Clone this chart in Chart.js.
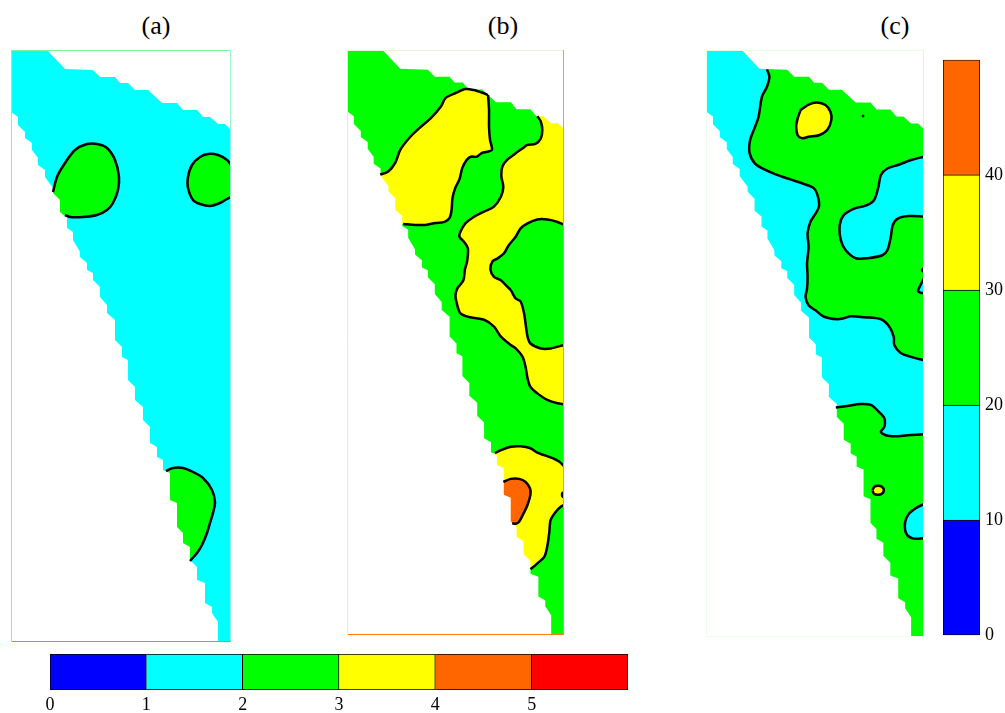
<!DOCTYPE html>
<html lang="en">
<head>
<meta charset="UTF-8">
<title>Contour panels</title>
<script src="https://cdn.jsdelivr.net/npm/chart.js@4.4.1/dist/chart.umd.min.js"></script>
<style>
  body { margin: 0; background: #fff; width: 1005px; height: 713px; position: relative; overflow: hidden; }
  canvas { position: absolute; }
  .ttl { position: absolute; top: 11px; width: 60px; margin-left: -30px; text-align: center;
         font: 26px 'Liberation Serif', 'Times New Roman', serif; line-height: 30px; color: #000; }
</style>
</head>
<body>
<div class="ttl" style="left:156px">(a)</div>
<div class="ttl" style="left:503px">(b)</div>
<div class="ttl" style="left:895px">(c)</div>

<canvas id="pa" style="left:10px;top:49px" width="222" height="594"></canvas>
<canvas id="pb" style="left:346px;top:49px" width="219" height="587"></canvas>
<canvas id="pc" style="left:705px;top:49px" width="220" height="589"></canvas>
<canvas id="cbh" style="left:30px;top:644px" width="620" height="69"></canvas>
<canvas id="cbv" style="left:930px;top:44px" width="75" height="607"></canvas>

<script>
// section extent (same for all three panels)
const X_MAX = 22, Y_MAX = 59.2;

// stepped edge of the section, top side and left side
const topEdge = [[3.6,0],[5.4,1.9],[8.2,2.0],[8.9,2.7],[10.4,2.7],[10.9,3.3],[11.7,3.3],[12.4,4.0],[13.7,4.0],
  [15.1,5.3],[16.6,5.3],[17.2,6.0],[18.6,6.0],[19.2,6.7],[19.9,6.7],[20.7,7.4],[21.4,7.4],[22.0,8.0]];
const leftEdge = [[0,6.2],[0.7,6.7],[0.7,7.5],[1.4,8.2],[1.4,8.8],[2.1,9.3],[2.1,10.0],[2.7,10.8],[2.7,11.5],
  [3.4,12.0],[3.4,12.7],[4.2,13.8],[4.2,14.3],[4.9,15.0],[4.9,16.2],[5.6,16.8],[5.6,17.8],[6.2,18.2],[6.2,19.0],
  [6.9,20.2],[6.9,20.7],[7.6,21.3],[7.6,22.0],[8.2,22.3],[8.2,23.0],[8.9,23.7],[8.9,24.7],[9.6,25.5],[9.6,26.3],
  [10.4,27.0],[10.4,29.0],[11.1,29.7],[11.1,30.7],[11.7,31.0],[11.7,33.0],[12.4,33.7],[12.4,35.0],[13.2,35.7],
  [13.2,37.0],[13.9,37.7],[13.9,39.3],[14.6,39.7],[14.6,40.7],[15.2,41.0],[15.2,42.0],[15.9,42.3],[15.9,45.0],
  [16.6,45.3],[16.6,47.7],[17.2,48.3],[17.2,49.3],[17.9,49.7],[17.9,51.0],[18.6,51.7],[18.6,53.0],[19.4,53.3],
  [19.4,55.3],[20.1,55.7],[20.1,56.3],[20.7,57.2],[20.7,59.2]];

// (a) contours, level 1-2 background
const aBlob1 = [[4.2,14.2],[4.6,12.7],[5.4,11.3],[6.4,10.0],[7.6,9.4],[8.6,9.4],[9.6,9.8],[10.4,11.0],[10.8,12.7],
  [10.7,14.0],[10.2,15.3],[9.6,16.0],[8.6,16.5],[7.2,16.7],[5.9,16.7],[5.4,16.5]];
const aBlob2 = [[22.0,11.5],[21.6,11.0],[20.7,10.5],[19.7,10.4],[18.9,10.7],[18.1,11.5],[17.7,12.7],[17.7,13.8],
  [18.2,15.0],[18.9,15.4],[19.9,15.6],[20.9,15.3],[21.6,14.9],[22.0,14.7]];
const aBlob3 = [[15.5,42.1],[16.2,41.8],[17.2,41.8],[18.2,42.2],[19.2,42.8],[20.1,44.0],[20.4,45.2],[20.2,46.3],
  [19.9,47.3],[19.6,48.3],[19.1,49.5],[18.6,50.3],[17.9,51.1]];

// (b) contours, level 2-3 background
const bNW1 = [[3.37,12.6],[4.18,12.3],[4.9,11.4],[5.4,10.1],[6.4,8.8],[7.45,7.8],[8.5,6.9],[9.5,5.75],[10.0,4.85],
  [11.0,4.35],[12.0,3.95],[12.85,4.05],[13.8,4.35],[14.3,4.55]];
const bNW2 = [[14.3,4.55],[14.4,6.05],[14.4,7.8],[14.5,9.1],[14.7,10.1],[14.2,10.3],[13.7,10.4],[13.15,10.8],
  [12.55,10.8],[12.15,11.1],[11.7,11.9],[11.4,13.1],[11.0,13.9],[10.7,14.95],[10.6,16.2],[10.4,17.0],[9.9,17.4],
  [9.0,17.5],[7.95,17.7],[6.95,17.7],[5.7,17.6]];
const bE = [[19.3,6.7],[19.65,7.25],[19.8,8.1],[19.65,8.95],[19.1,9.5],[18.3,9.6],[17.8,9.95],[17.1,10.45],
  [16.25,11.1],[15.75,11.8],[15.65,12.8],[15.85,13.85],[15.6,14.85],[14.9,15.85],[13.9,16.35],[12.85,16.9],
  [12.0,17.55],[11.5,18.4],[11.4,18.9],[11.85,19.4],[12.25,20.05],[12.2,21.25],[11.95,22.25],[11.8,23.3],
  [11.2,24.1],[11.0,24.8],[11.1,25.5],[11.5,26.65],[12.5,27.05],[13.9,27.3],[14.9,28.0],[15.6,29.0],[16.6,29.85],
  [17.1,30.2],[17.8,31.05],[18.1,32.05],[18.3,33.2],[18.6,34.1],[19.5,34.9],[20.3,35.4],[21.35,35.75],[22.0,35.85]];
const bC = [[22.0,17.7],[21.35,17.4],[20.3,17.15],[19.3,17.15],[18.3,17.55],[17.6,18.05],[17.1,18.9],[16.4,19.75],
  [15.9,20.6],[15.25,21.1],[14.75,21.4],[14.55,22.25],[14.9,22.95],[15.6,23.3],[16.25,23.95],[16.6,24.3],
  [17.1,25.15],[17.6,25.45],[17.95,26.65],[18.3,29.0],[18.6,29.7],[19.65,30.2],[20.65,30.2],[22.0,29.85]];
const bD = [[15.0,40.8],[15.6,40.5],[16.6,40.15],[17.6,40.1],[18.6,40.3],[19.3,40.75],[20.0,41.0],[20.85,41.3],
  [21.5,41.65],[22.0,42.1]];
const bF = [[22.0,46.05],[21.7,46.2],[21.2,46.7],[20.65,47.55],[20.5,48.9],[20.3,50.25],[20.0,51.3],[19.3,51.95],
  [18.6,52.55]];
const bO = [[15.85,43.7],[16.6,43.4],[17.45,43.4],[18.1,43.7],[18.55,44.35],[18.6,45.0],[18.3,46.05],[17.9,46.9],
  [17.45,47.75],[17.1,47.95],[16.75,47.9]];
const bDot = [[22.0,44.75],[21.85,44.82],[21.8,45.0],[21.85,45.18],[22.0,45.25]];

// (c) contours, level 20-30 background
const cF = [[6.15,1.95],[6.4,2.7],[6.15,3.7],[5.65,4.7],[5.3,6.75],[4.95,7.75],[4.45,9.1],[4.4,10.4],[4.95,11.45],
  [6.0,12.1],[7.15,12.6],[8.5,13.05],[9.85,13.5],[10.9,13.95],[11.3,14.8],[11.4,15.8],[11.05,16.5],[10.55,17.3],
  [10.25,18.5],[10.35,19.85],[10.2,21.5],[10.25,22.9],[10.2,24.05],[10.05,24.9],[10.35,25.75],[11.05,26.25],
  [11.9,26.9],[13.25,27.15],[13.9,27.05],[14.6,26.85],[15.95,26.95],[17.65,27.15],[18.5,27.9],[18.95,28.95],
  [19.0,29.75],[19.65,30.55],[20.7,30.95],[22.0,31.3]];
const cG = [[13.1,36.05],[14.25,35.9],[15.6,35.7],[16.65,35.8],[17.45,36.5],[18.0,37.15],[18.0,38.0],[17.65,38.5],
  [18.15,38.85],[19.15,38.95],[20.35,38.85],[22.0,38.75]];
const cH = [[22.0,10.75],[20.7,11.1],[19.35,11.6],[18.3,11.95],[17.65,12.6],[17.4,13.8],[16.95,15.15],[16.1,15.7],
  [14.95,16.0],[13.9,16.65],[13.5,17.65],[13.6,19.15],[14.1,20.2],[15.1,21.0],[16.3,21.0],[17.8,20.7],[18.3,20.2],
  [18.65,18.85],[18.85,17.65],[19.35,17.0],[20.5,16.75],[22.0,16.8]];
const cK = [[22.0,23.0],[21.8,23.4],[21.5,24.0],[21.4,24.3],[21.7,24.5],[22.0,24.5]];
const cL = [[22.0,45.8],[21.35,46.1],[20.5,46.75],[20.1,47.6],[20.2,48.75],[20.85,49.25],[22.0,49.25]];
const cY1 = [[9.55,6.05],[10.35,5.5],[11.2,5.3],[12.05,5.55],[12.55,6.2],[12.65,7.05],[12.25,8.05],[11.4,8.6],
  [10.35,8.75],[9.7,8.9],[9.25,8.6],[9.1,7.75],[9.25,6.9]];
const cY2 = [[16.8,44.4],[17.0,44.05],[17.35,43.95],[17.75,44.05],[17.95,44.4],[17.75,44.75],[17.35,44.85],[16.95,44.75]];
const cDot = [[15.85,6.5],[16.0,6.65],[15.85,6.8],[15.7,6.65]];
const cDot2 = [[22.0,22.05],[21.85,22.1],[21.8,22.2],[21.85,22.3],[22.0,22.35]];

// colour bars
const ratioLevels = [0, 1, 2, 3, 4, 5, 6];
const ratioTicks = [0, 1, 2, 3, 4, 5];
const ratioColors = ['#0000ff', '#00ffff', '#00ff00', '#ffff00', '#ff6600', '#ff0000'];
const pctLevels = [0, 10, 20, 30, 40, 50];
const pctTicks = [0, 10, 20, 30, 40];
const pctColors = ['#0000ff', '#00ffff', '#00ff00', '#ffff00', '#ff6600'];

const CYAN = '#00ffff', GREEN = '#00ff00', YELLOW = '#ffff00', ORANGE = '#ff6600';

Chart.defaults.font.family = "'Liberation Serif', 'Times New Roman', serif";
Chart.defaults.color = '#000';
Chart.defaults.animation = false;

const xy = pts => pts.map(([x, y]) => ({x, y}));
const ring = pts => [...pts, pts[0]];

// white areas outside the section
const topMask = [...topEdge, [23, 8.0], [23, -1], [3.6, -1]];
const leftMask = [...leftEdge, [20.7, 61], [-1, 61], [-1, 6.2]];

const panels = {
  pa: {
    base: CYAN,
    edges: {top: '#7cf59a', right: '#9af8ce', bottom: '#22ea22', left: '#8cf5a8'},
    fills: [
      {pts: [...aBlob1, [3.5, 16.5], [3.5, 14.2]], color: GREEN},
      {pts: [...aBlob2, [23, 14.7], [23, 11.5]], color: GREEN},
      {pts: [...aBlob3, [15, 51.1], [15, 42.1]], color: GREEN}
    ],
    lines: [aBlob1, aBlob2, aBlob3]
  },
  pb: {
    base: GREEN,
    edges: {top: '#eef0d4', right: '#f0a030', bottom: '#ff7a10', left: '#e6f0b4'},
    fills: [
      {pts: [...bNW1, ...bNW2.slice(1), [2.5, 17.6], [2.5, 12.6]], color: YELLOW},
      {pts: [...bE, [23, 35.85], [23, 6.7]], color: YELLOW},
      {pts: [...bC, [23, 29.85], [23, 17.7]], color: GREEN},
      {pts: [...bD, [23, 42.1], [23, 46.05], ...bF, [16.5, 52.55], [13.5, 40.8]], color: YELLOW},
      {pts: [...bO, [15, 48], [15, 43.7]], color: ORANGE}
    ],
    lines: [bNW1, bNW2, bE, bC, bD, bF, bO, bDot]
  },
  pc: {
    base: GREEN,
    edges: {top: '#eafaea', right: '#dcf8c8', bottom: '#eefcee', left: '#eefcee'},
    fills: [
      {pts: [...cF, [23, 31.3], [23, 38.75], ...[...cG].reverse(), [-1, 36.05], [-1, -1], [6.15, -1]], color: CYAN},
      {pts: [...cH, [23, 16.8], [23, 10.75]], color: CYAN},
      {pts: [...cK, [23, 24.5], [23, 23.0]], color: CYAN},
      {pts: [...cL, [23, 49.25], [23, 45.8]], color: CYAN},
      {pts: cY1, color: YELLOW},
      {pts: cY2, color: YELLOW},
      {pts: cDot, color: '#000'}
    ],
    lines: [cF, cG, cH, cK, cL, ring(cY1), ring(cY2), cDot2]
  }
};

// background colour under the contours and the thin outline around each panel
const panelFrame = {
  id: 'panelFrame',
  beforeDatasetsDraw(chart, args, opts) {
    const {ctx, chartArea: a} = chart;
    ctx.save();
    ctx.fillStyle = opts.base;
    ctx.fillRect(a.left, a.top, a.width, a.height);
    ctx.restore();
  },
  afterDatasetsDraw(chart, args, opts) {
    const {ctx, chartArea: a} = chart;
    const e = opts.edges;
    const seg = (c, x1, y1, x2, y2) => {
      ctx.strokeStyle = c;
      ctx.beginPath();
      ctx.moveTo(x1, y1);
      ctx.lineTo(x2, y2);
      ctx.stroke();
    };
    ctx.save();
    ctx.lineWidth = 1;
    seg(e.top, a.left, a.top + 0.5, a.right, a.top + 0.5);
    seg(e.right, a.right - 0.5, a.top, a.right - 0.5, a.bottom);
    seg(e.bottom, a.left, a.bottom - 0.5, a.right, a.bottom - 0.5);
    seg(e.left, a.left + 0.5, a.top, a.left + 0.5, a.bottom);
    ctx.restore();
  }
};

function fillSet(pts, color, tension) {
  return {data: xy(ring(pts)), showLine: true, fill: 'shape', backgroundColor: color,
          borderColor: 'rgba(0,0,0,0)', borderWidth: 1, pointRadius: 0, tension};
}

function lineSet(pts) {
  return {data: xy(pts), showLine: true, fill: false, borderColor: '#000', borderWidth: 2.5,
          pointRadius: 0, tension: 0.3};
}

function drawPanel(id) {
  const p = panels[id];
  const sets = [
    ...p.fills.map(f => fillSet(f.pts, f.color, 0.3)),
    fillSet(topMask, '#fff', 0),
    fillSet(leftMask, '#fff', 0),
    ...p.lines.map(lineSet)
  ];
  // first in the list is painted first
  sets.forEach((s, i) => { s.order = sets.length - i; });

  new Chart(document.getElementById(id), {
    type: 'scatter',
    data: {datasets: sets},
    options: {
      responsive: false,
      devicePixelRatio: 1,
      events: [],
      layout: {padding: 1},
      scales: {
        x: {type: 'linear', min: 0, max: X_MAX, display: false},
        y: {type: 'linear', min: 0, max: Y_MAX, reverse: true, display: false}
      },
      plugins: {
        legend: {display: false},
        tooltip: {enabled: false},
        panelFrame: {base: p.base, edges: p.edges}
      }
    },
    plugins: [panelFrame]
  });
}

['pa', 'pb', 'pc'].forEach(drawPanel);

// horizontal colour bar (panels a and b)
new Chart(document.getElementById('cbh'), {
  type: 'bar',
  data: {
    labels: [''],
    datasets: ratioColors.map((c, i) => ({
      data: [[ratioLevels[i], ratioLevels[i + 1]]],
      backgroundColor: c, borderColor: '#000', borderWidth: 1,
      borderSkipped: i === 0 ? false : 'left',
      barPercentage: 1, categoryPercentage: 1, grouped: false
    }))
  },
  options: {
    indexAxis: 'y',
    responsive: false,
    devicePixelRatio: 1,
    events: [],
    layout: {padding: {top: 10, left: 20, right: 22, bottom: 0}},
    scales: {
      x: {
        min: 0, max: 6,
        grid: {display: false, drawTicks: false},
        border: {display: false},
        ticks: {stepSize: 1, padding: 4, font: {size: 18}, color: '#000',
                callback: v => ratioTicks.includes(v) ? v : ''},
        afterFit: s => { s.height = 23; }
      },
      y: {display: false}
    },
    plugins: {legend: {display: false}, tooltip: {enabled: false}}
  }
});

// vertical colour bar (panel c)
new Chart(document.getElementById('cbv'), {
  type: 'bar',
  data: {
    labels: [''],
    datasets: pctColors.map((c, i) => ({
      data: [[pctLevels[i], pctLevels[i + 1]]],
      backgroundColor: c, borderColor: '#000', borderWidth: 1,
      borderSkipped: i === 0 ? false : 'bottom',
      barPercentage: 1, categoryPercentage: 1, grouped: false
    }))
  },
  options: {
    responsive: false,
    devicePixelRatio: 1,
    events: [],
    layout: {padding: {top: 0, left: 13, bottom: 0, right: 0}},
    scales: {
      x: {display: false},
      y: {
        position: 'right',
        min: 0, max: 50,
        grid: {display: false, drawTicks: false},
        border: {display: false},
        ticks: {stepSize: 10, padding: 5, font: {size: 18}, color: '#000',
                callback: v => pctTicks.includes(v) ? v : ''},
        afterFit: s => { s.width = 25; }
      }
    },
    plugins: {legend: {display: false}, tooltip: {enabled: false}}
  }
});
</script>
</body>
</html>
